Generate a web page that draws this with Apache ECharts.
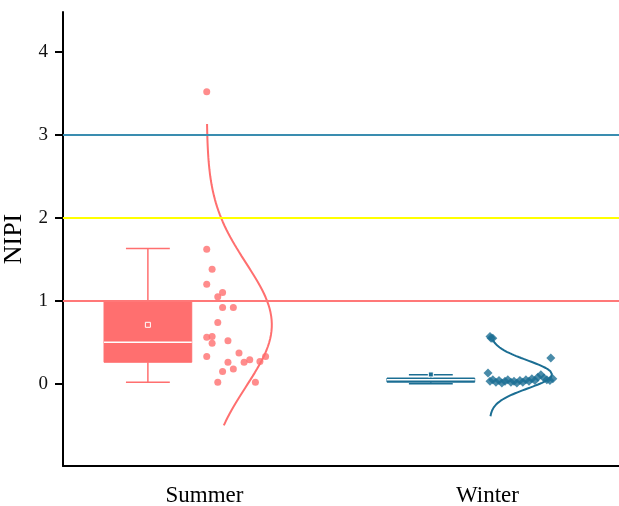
<!DOCTYPE html>
<html>
<head>
<meta charset="utf-8">
<script src="https://cdn.jsdelivr.net/npm/echarts@6/dist/echarts.min.js"></script>
<style>html,body{margin:0;padding:0;background:#fff}#c{width:619px;height:506px}</style>
</head>
<body>
<div id="c"></div>
<script>
// ---- data ----
const categories = ['Summer', 'Winter'];
const yTicks = [0, 1, 2, 3, 4];
const thresholds = [1, 2, 3];

const summerValues = [3.52, 1.62, 1.38, 1.20, 1.10, 1.05, 0.92, 0.92, 0.74, 0.56, 0.57, 0.49,
                      0.52, 0.37, 0.33, 0.26, 0.26, 0.29, 0.27, 0.33, 0.18, 0.15, 0.02, 0.02];
const summerJitter = [0.008, 0.008, 0.027, 0.008, 0.064, 0.047, 0.064, 0.102, 0.047, 0.008, 0.027, 0.027,
                      0.083, 0.122, 0.008, 0.083, 0.140, 0.160, 0.196, 0.216, 0.102, 0.064, 0.047, 0.180];

const winterValues = [0.57, 0.55, 0.55, 0.31, 0.13,
                      0.03, 0.05, 0.02, 0.04, 0.01, 0.03, 0.05, 0.02, 0.03, 0.01, 0.04,
                      0.02, 0.05, 0.03, 0.06, 0.04, 0.08, 0.11, 0.07, 0.05, 0.04, 0.06];
const winterJitter = [0.009, 0.019, 0.013, 0.224, 0.002,
                      0.009, 0.019, 0.030, 0.041, 0.051, 0.062, 0.072, 0.083, 0.094, 0.104, 0.115,
                      0.125, 0.136, 0.147, 0.157, 0.168, 0.178, 0.189, 0.200, 0.210, 0.221, 0.231];

// [min whisker, Q1, median, Q3, max whisker]
const summerBox = [0.02, 0.26, 0.50, 1.00, 1.63];
const winterBox = [0.00, 0.02, 0.05, 0.07, 0.11];

// y-range over which the fitted normal curves are drawn
const summerCurveRange = [-0.50, 3.13];
const winterCurveRange = [-0.39, 0.53];

// ---- styling ----
const colors = ['#FF6F6F', '#1B6E93'];
const lineColors = ['#FF7878', '#FFFF00', '#3A8DB0'];
const boxOffset = -0.2, boxWidth = 0.31, capWidth = 0.155;
const curveBase = 0.008, curveWidths = [0.23, 0.22];

function mean(a) { return a.reduce((s, v) => s + v, 0) / a.length; }
function sd(a) { const m = mean(a); return Math.sqrt(a.reduce((s, v) => s + (v - m) * (v - m), 0) / (a.length - 1)); }

const groups = [
  { values: summerValues, jitter: summerJitter, box: summerBox, range: summerCurveRange },
  { values: winterValues, jitter: winterJitter, box: winterBox, range: winterCurveRange }
];

const boxData = groups.map((g, i) => [i + 1 + boxOffset].concat(g.box, [mean(g.values)]));

function curveData(g, i) {
  const m = mean(g.values), s = sd(g.values), out = [];
  const n = 160;
  for (let k = 0; k <= n; k++) {
    const y = g.range[0] + (g.range[1] - g.range[0]) * k / n;
    out.push([i + 1 + curveBase + curveWidths[i] * Math.exp(-(y - m) * (y - m) / (2 * s * s)), y]);
  }
  return out;
}

function renderBox(params, api) {
  const x = api.value(0);
  const mn = api.value(1), q1 = api.value(2), med = api.value(3), q3 = api.value(4), mx = api.value(5), mu = api.value(6);
  const c = colors[params.dataIndex];
  const hw = api.size([boxWidth, 0])[0] / 2;
  const ch = api.size([capWidth, 0])[0] / 2;
  const px = api.coord([x, 0])[0];
  const y = v => api.coord([x, v])[1];
  const ls = { stroke: c, lineWidth: 1.5 };
  return {
    type: 'group',
    children: [
      { type: 'line', shape: { x1: px, y1: y(mn), x2: px, y2: y(q1) }, style: ls },
      { type: 'line', shape: { x1: px, y1: y(q3), x2: px, y2: y(mx) }, style: ls },
      { type: 'line', shape: { x1: px - ch, y1: y(mn), x2: px + ch, y2: y(mn) }, style: ls },
      { type: 'line', shape: { x1: px - ch, y1: y(mx), x2: px + ch, y2: y(mx) }, style: ls },
      { type: 'rect', shape: { x: px - hw, y: y(q3), width: 2 * hw, height: y(q1) - y(q3) }, style: { fill: c, stroke: c, lineWidth: 1 } },
      { type: 'line', shape: { x1: px - hw, y1: y(med), x2: px + hw, y2: y(med) }, style: { stroke: '#fff', lineWidth: 1.5 } },
      { type: 'rect', shape: { x: px - 2.5, y: y(mu) - 2.5, width: 5, height: 5 }, style: { fill: c, stroke: '#fff', lineWidth: 1 } }
    ]
  };
}

const chart = echarts.init(document.getElementById('c'), null, { renderer: 'canvas' });
const font = 'Liberation Serif';

chart.setOption({
  animation: false,
  backgroundColor: '#fff',
  grid: { left: 63, right: 0, top: 12, bottom: 40, outerBoundsMode: 'none', containLabel: false },
  xAxis: {
    type: 'value', min: 0.5, max: 2.465,
    splitLine: { show: false },
    axisTick: { show: false },
    axisLine: { show: true, onZero: false, lineStyle: { color: '#000', width: 2 } },
    axisLabel: {
      customValues: [1, 2],
      formatter: v => categories[Math.round(v) - 1],
      color: '#000', fontFamily: font, fontSize: 23, margin: 18
    }
  },
  yAxis: {
    type: 'value', min: -0.99, max: 4.48,
    name: 'NIPI', nameLocation: 'middle', nameRotate: 90, nameGap: 34,
    nameTextStyle: { fontFamily: font, fontSize: 26, color: '#000' },
    splitLine: { show: false },
    axisLine: { show: true, onZero: false, lineStyle: { color: '#000', width: 2 } },
    axisTick: { show: true, customValues: yTicks, length: 8, lineStyle: { color: '#000', width: 2 } },
    axisLabel: { customValues: yTicks, color: '#111', fontFamily: font, fontSize: 19, margin: 15 }
  },
  series: [
    {
      type: 'line', data: [], silent: true, z: 1,
      markLine: {
        silent: true, symbol: 'none', label: { show: false }, animation: false,
        data: thresholds.map((t, i) => ({ yAxis: t, lineStyle: { color: lineColors[i], width: 2, type: 'solid' } }))
      }
    },
    {
      type: 'custom', renderItem: renderBox, data: boxData, z: 2,
      encode: { x: 0, y: [1, 2, 3, 4, 5] }
    },
    {
      type: 'scatter', symbol: 'circle', symbolSize: 7, z: 3,
      itemStyle: { color: colors[0] },
      data: summerValues.map((v, k) => [1 + summerJitter[k], v])
    },
    {
      type: 'scatter', symbol: 'diamond', symbolSize: 9, z: 3,
      itemStyle: { color: colors[1] },
      data: winterValues.map((v, k) => [2 + winterJitter[k], v])
    },
    {
      type: 'line', showSymbol: false, symbol: 'none', z: 4,
      lineStyle: { color: colors[0], width: 2 },
      data: curveData(groups[0], 0)
    },
    {
      type: 'line', showSymbol: false, symbol: 'none', z: 4,
      lineStyle: { color: colors[1], width: 2 },
      data: curveData(groups[1], 1)
    }
  ]
});
</script>
</body>
</html>
